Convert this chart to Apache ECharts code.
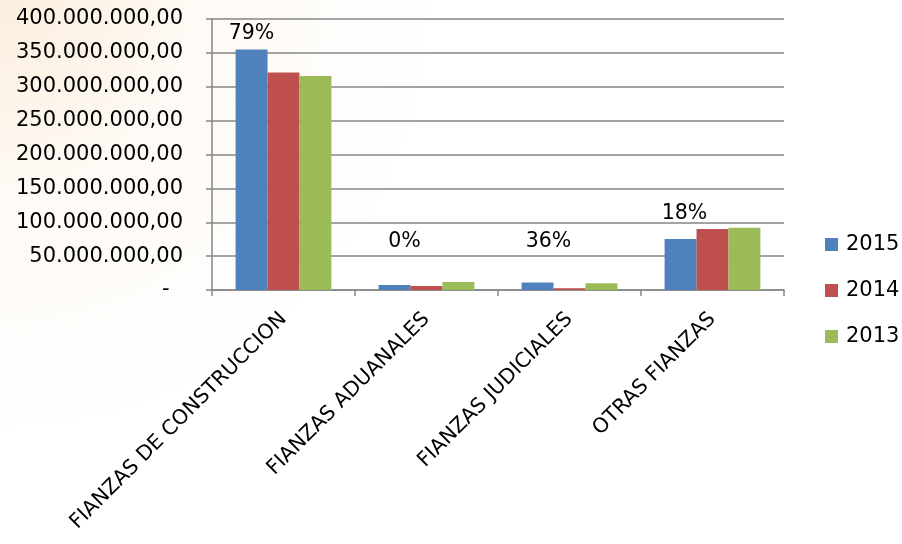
<!DOCTYPE html>
<html><head><meta charset="utf-8">
<script src="https://cdn.jsdelivr.net/npm/echarts@6/dist/echarts.min.js"></script>
<style>html,body{margin:0;padding:0;background:#fff}#c{width:902px;height:544px}</style>
</head><body><div id="c"></div>
<script>
const categories = ['FIANZAS DE CONSTRUCCION','FIANZAS ADUANALES','FIANZAS JUDICIALES','OTRAS FIANZAS'];
const v2015 = [355000000, 7400000, 10900000, 75300000];
const v2014 = [321000000, 5900000, 2500000, 90000000];
const v2013 = [316000000, 11800000, 9900000, 92000000];
const pctLabels = ['79%','0%','36%','18%'];
const pctLabelAt = [378000000, 72000000, 72000000, 113000000];
const yTicks = {min:0, max:400000000, interval:50000000};

function fmt(v){
  if (v === 0) return '-\u00a0\u00a0';
  return String(Math.round(v)).replace(/\B(?=(\d{3})+(?!\d))/g,'.') + ',00';
}
const font = '"DejaVu Sans", sans-serif';
const chart = echarts.init(document.getElementById('c'));
const pctOffsets = [[0,0],[10,0],[11,0],[4,0]];
chart.setOption({
  backgroundColor: {type:'radial', x:0, y:0, r:0.8, colorStops:[{offset:0,color:'#fbeedd'},{offset:0.45,color:'#fefaf5'},{offset:1,color:'#ffffff'}]},
  animation:false,
  grid:{left:212, right:118, top:19, bottom:254, containLabel:false},
  legend:{
    orient:'vertical', left:820, top:229, itemGap:25, itemWidth:13, itemHeight:13,
    icon:'rect', textStyle:{fontFamily:font, fontSize:21, color:'#000', padding:[0,0,0,3]},
    data:['2015','2014','2013']
  },
  xAxis:{
    type:'category', data:categories,
    axisLine:{lineStyle:{color:'#868686', width:1.5}},
    axisTick:{show:true, length:6, lineStyle:{color:'#868686', width:1.5}},
    axisLabel:{rotate:45, fontFamily:font, fontSize:20.5, color:'#000', margin:26, interval:0}
  },
  yAxis:{
    type:'value', min:yTicks.min, max:yTicks.max, interval:yTicks.interval,
    axisLine:{show:true, lineStyle:{color:'#868686', width:1.5}},
    axisTick:{show:true, length:6, lineStyle:{color:'#868686', width:1.5}},
    splitLine:{lineStyle:{color:'#868686', width:1.5}},
    axisLabel:{formatter:fmt, fontFamily:font, fontSize:21, color:'#000', margin:29}
  },
  series:[
    {name:'2015', type:'bar', data:v2015, barGap:'0%', barCategoryGap:'33%',
     itemStyle:{color:'#4F81BD'},
     markPoint:{symbol:'circle', symbolSize:1, itemStyle:{color:'rgba(0,0,0,0)'},
       data: categories.map((c,i)=>({coord:[c, pctLabelAt[i]],
       label:{show:true, position:'inside', formatter:pctLabels[i], offset:pctOffsets[i], fontFamily:font, fontSize:20.5, color:'#000'}}))}
    },
    {name:'2014', type:'bar', data:v2014, itemStyle:{color:'#C0504D'}},
    {name:'2013', type:'bar', data:v2013, itemStyle:{color:'#9BBB59'}}
  ]
});
</script></body></html>
